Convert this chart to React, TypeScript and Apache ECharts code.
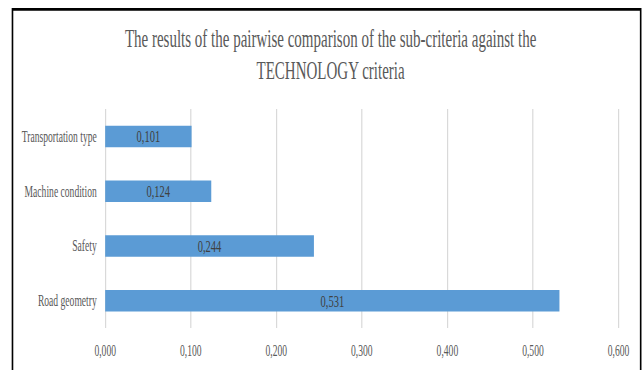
import React, { useEffect, useRef } from "react";
import * as echarts from "echarts";

const titleText =
  "The results of the pairwise comparison of the sub-criteria against the\nTECHNOLOGY criteria";
const categories = ["Road geometry", "Safety", "Machine condition", "Transportation type"];
const values = [0.531, 0.244, 0.124, 0.101];
const xMin = 0;
const xMax = 0.6;
const xStep = 0.1;

const SX = 0.6; // horizontal compression of the original picture
const OUT_W = 643;
const OUT_H = 370;
const IN_W = Math.round(OUT_W / SX);

const fmt = (v: number) => v.toFixed(3).replace(".", ",");

export default function App() {
  const ref = useRef<HTMLDivElement>(null);
  useEffect(() => {
    if (!ref.current) return;
    const chart = echarts.init(ref.current, undefined, { renderer: "svg" });
    const font = "'Liberation Serif', 'Times New Roman', serif";
    chart.setOption({
      animation: false,
      backgroundColor: "#ffffff",
      title: {
        text: titleText,
        left: 546,
        top: 18,
        textAlign: "center",
        textStyle: {
          fontFamily: font,
          fontSize: 25,
          fontWeight: "normal",
          color: "#595959",
          lineHeight: 32,
        },
      },
      graphic: [
        {
          type: "rect",
          shape: { x: 20.8, y: 9.3, width: 1047, height: 420 },
          style: { fill: "none", stroke: "#000000", lineWidth: 2.7 },
          silent: true,
          z: 10,
        },
      ],
      grid: { left: 175.3, right: 41.2, top: 109, bottom: 42, containLabel: false },
      xAxis: {
        type: "value",
        min: xMin,
        max: xMax,
        interval: xStep,
        axisLine: { show: false },
        axisTick: { show: false },
        splitLine: { show: true, lineStyle: { color: "#d9d9d9", width: 2 } },
        axisLabel: {
          formatter: (v: number) => fmt(v),
          fontFamily: font,
          fontSize: 16,
          color: "#595959",
          margin: 15,
        },
      },
      yAxis: {
        type: "category",
        data: categories,
        axisLine: { show: false },
        axisTick: { show: false },
        splitLine: { show: false },
        axisLabel: {
          fontFamily: font,
          fontSize: 16,
          color: "#595959",
          margin: 14,
        },
      },
      series: [
        {
          type: "bar",
          data: values,
          barWidth: 21.5,
          itemStyle: { color: "#5b9bd5" },
          label: {
            show: true,
            position: "inside",
            formatter: (p: any) => fmt(p.value),
            fontFamily: font,
            fontSize: 17.5,
            color: "#404040",
          },
        },
      ],
    });
    return () => chart.dispose();
  }, []);
  return (
    <div
      style={{
        position: "fixed",
        left: 0,
        top: 0,
        width: OUT_W,
        height: OUT_H,
        overflow: "hidden",
        background: "#ffffff",
      }}
    >
      <div
        ref={ref}
        style={{
          width: IN_W,
          height: OUT_H,
          transform: `scaleX(${SX})`,
          transformOrigin: "0 0",
        }}
      />
    </div>
  );
}
